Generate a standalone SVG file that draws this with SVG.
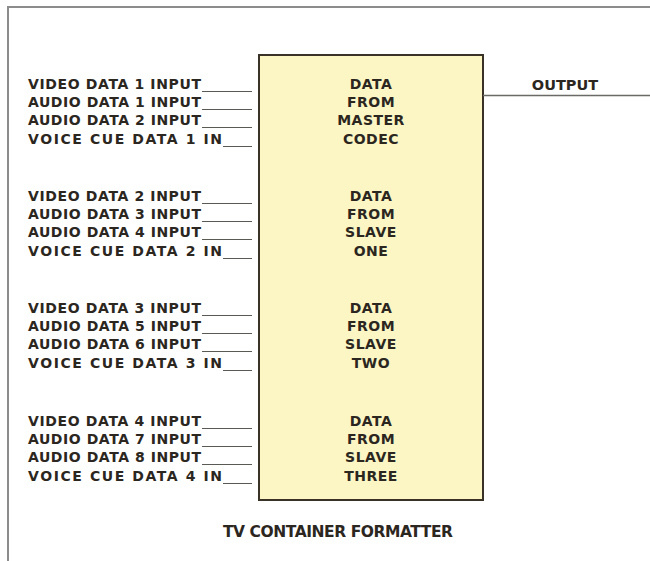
<svg xmlns="http://www.w3.org/2000/svg" width="650" height="561" viewBox="0 0 650 561">
<style>
.t{font-family:"DejaVu Sans","Liberation Sans",Arial,sans-serif;font-weight:bold;font-size:14px;fill:#2b2620}
.c{text-anchor:middle;letter-spacing:0.5px}
.u{stroke:#5a5a55;stroke-width:1}
.ln{stroke:#6a6a66;stroke-width:1.3;fill:none}
</style>
<rect width="650" height="561" fill="#ffffff"/>
<g id="frame">
<path d="M8,561 V7 H650" fill="none" stroke="#8c8c8c" stroke-width="2"/>
</g>
<g id="formatter">
<rect x="259" y="55" width="224" height="445" fill="#fcf6c4" stroke="#3a3226" stroke-width="2"/>
<text class="t c" x="371" y="89">DATA</text>
<text class="t c" x="371" y="107">FROM</text>
<text class="t c" x="371" y="125">MASTER</text>
<text class="t c" x="371" y="144">CODEC</text>
<text class="t c" x="371" y="201">DATA</text>
<text class="t c" x="371" y="219">FROM</text>
<text class="t c" x="371" y="237">SLAVE</text>
<text class="t c" x="371" y="256">ONE</text>
<text class="t c" x="371" y="313">DATA</text>
<text class="t c" x="371" y="331">FROM</text>
<text class="t c" x="371" y="349">SLAVE</text>
<text class="t c" x="371" y="368">TWO</text>
<text class="t c" x="371" y="426">DATA</text>
<text class="t c" x="371" y="444">FROM</text>
<text class="t c" x="371" y="462">SLAVE</text>
<text class="t c" x="371" y="481">THREE</text>
</g>
<g id="inputs">
<text class="t" x="28" y="89" textLength="173" lengthAdjust="spacing">VIDEO DATA 1 INPUT</text>
<text class="t" x="28" y="107" textLength="173" lengthAdjust="spacing">AUDIO DATA 1 INPUT</text>
<text class="t" x="28" y="125" textLength="173" lengthAdjust="spacing">AUDIO DATA 2 INPUT</text>
<text class="t" x="28" y="144" textLength="194" lengthAdjust="spacing">VOICE CUE DATA 1 IN</text>
<text class="t" x="28" y="201" textLength="173" lengthAdjust="spacing">VIDEO DATA 2 INPUT</text>
<text class="t" x="28" y="219" textLength="173" lengthAdjust="spacing">AUDIO DATA 3 INPUT</text>
<text class="t" x="28" y="237" textLength="173" lengthAdjust="spacing">AUDIO DATA 4 INPUT</text>
<text class="t" x="28" y="256" textLength="194" lengthAdjust="spacing">VOICE CUE DATA 2 IN</text>
<text class="t" x="28" y="313" textLength="173" lengthAdjust="spacing">VIDEO DATA 3 INPUT</text>
<text class="t" x="28" y="331" textLength="173" lengthAdjust="spacing">AUDIO DATA 5 INPUT</text>
<text class="t" x="28" y="349" textLength="173" lengthAdjust="spacing">AUDIO DATA 6 INPUT</text>
<text class="t" x="28" y="368" textLength="194" lengthAdjust="spacing">VOICE CUE DATA 3 IN</text>
<text class="t" x="28" y="426" textLength="173" lengthAdjust="spacing">VIDEO DATA 4 INPUT</text>
<text class="t" x="28" y="444" textLength="173" lengthAdjust="spacing">AUDIO DATA 7 INPUT</text>
<text class="t" x="28" y="462" textLength="173" lengthAdjust="spacing">AUDIO DATA 8 INPUT</text>
<text class="t" x="28" y="481" textLength="194" lengthAdjust="spacing">VOICE CUE DATA 4 IN</text>
</g>
<g id="connectors">
<path class="u" d="M202,91.5H252M202,109.5H252M202,127.5H252M223,146.5H252"/>
<path class="u" d="M202,203.5H252M202,221.5H252M202,239.5H252M223,258.5H252"/>
<path class="u" d="M202,315.5H252M202,333.5H252M202,351.5H252M223,370.5H252"/>
<path class="u" d="M202,428.5H252M202,446.5H252M202,464.5H252M223,483.5H252"/>
<path class="ln" d="M483,95.5H650"/>
</g>
<g id="output">
<text class="t" x="565" y="90" text-anchor="middle" style="font-size:14.5px">OUTPUT</text>
</g>
<g id="title">
<text class="t" x="338" y="537" text-anchor="middle" style="font-size:15.5px" textLength="230" lengthAdjust="spacing">TV CONTAINER FORMATTER</text>
</g>
</svg>
